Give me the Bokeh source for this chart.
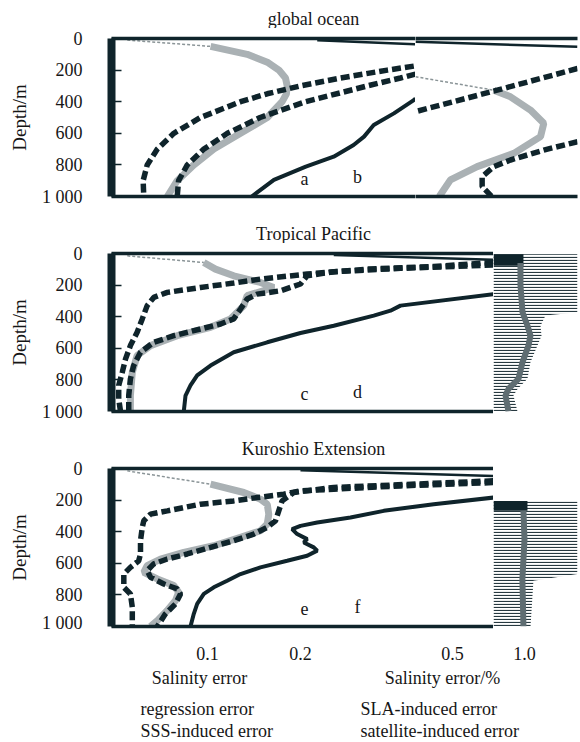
from bokeh.plotting import figure
from bokeh.models import Range1d, FixedTicker, LogAxis, Label, PrintfTickFormatter
from bokeh.layouts import column, row
from bokeh.embed import file_html
from bokeh.resources import INLINE

# ---------------- data ----------------
titles = ["global ocean", "Tropical Pacific", "Kuroshio Extension"]
letters = [["a", "b"], ["c", "d"], ["e", "f"]]
depth_ticks = [0, 200, 400, 600, 800, 1000]
error_ticks = [0.1, 0.2]
percent_ticks = [0.5, 1.0]
x_label_left = "Salinity error"
x_label_right = "Salinity error/%"
legend_left = ["regression error", "SSS-induced error"]
legend_right = ["SLA-induced error", "satellite-induced error"]

err_min = 0.0489
err_max_global = 0.471
err_max_regional = 0.843
pct_min_global = 0.350
pct_min_regional = 0.742
pct_max = 1.666
depth_max = 1000

# (a) global ocean, salinity error
a_reg_depth = [380, 390, 474, 548, 621, 674, 748, 811, 895, 1000]
a_reg_val = [0.471, 0.465, 0.401, 0.345, 0.321, 0.297, 0.256, 0.208, 0.164, 0.139]
a_sla_depth = [175, 200, 250, 300, 350, 400, 500, 600, 700, 800, 900, 1000]
a_sla_val = [0.465, 0.382, 0.269, 0.200, 0.156, 0.128, 0.0949, 0.0778, 0.0688, 0.0638, 0.0619, 0.0622]
a_sat_depth = [225, 250, 300, 400, 500, 600, 700, 800, 900, 1000]
a_sat_val = [0.471, 0.421, 0.329, 0.208, 0.148, 0.116, 0.0973, 0.0860, 0.0806, 0.0798]
a_sss_depth = [10, 50, 100, 150, 200, 250, 300, 350, 400, 500, 600, 700, 800, 900, 1000]
a_sss_val = [0.0550, 0.1023, 0.1344, 0.1561, 0.1702, 0.1788, 0.1811, 0.180, 0.1744, 0.1561, 0.1279, 0.1048, 0.0903, 0.0798, 0.0741]
a_surf_depth = [11, 36]
a_surf_val = [0.2265, 0.471]

# (b) global ocean, salinity error %
b_sss_depth = [242, 327, 369, 453, 537, 621, 727, 811, 895, 1000]
b_sss_val = [0.350, 0.744, 0.874, 1.059, 1.204, 1.167, 0.902, 0.634, 0.490, 0.440]
b_sla_depth = [190, 327, 463]
b_sla_val = [1.666, 0.769, 0.350]
b_sat_depth = [653, 706, 769, 811, 874, 937, 1000]
b_sat_val = [1.666, 1.204, 0.874, 0.744, 0.665, 0.665, 0.730]
b_surf_depth = [21, 53]
b_surf_val = [0.350, 1.666]

# (c) Tropical Pacific, salinity error
c_reg_depth = [257, 330, 362, 393, 457, 503, 562, 625, 709, 772, 835, 899, 1000]
c_reg_val = [0.843, 0.4214, 0.3911, 0.3453, 0.2563, 0.2, 0.1561, 0.1216, 0.1023, 0.0926, 0.0881, 0.0849, 0.0838]
c_sla_depth = [57, 82, 99, 130, 162, 187, 215, 246, 278, 330, 414, 499, 583, 667, 751, 835, 920, 1000]
c_sla_val = [0.843, 0.5399, 0.3287, 0.2102, 0.1484, 0.1216, 0.0949, 0.0741, 0.0670, 0.0638, 0.0615, 0.0592, 0.0563, 0.0543, 0.0530, 0.0516, 0.0516, 0.0523]
c_sat_depth = [73, 94, 115, 141, 193, 236, 257, 288, 351, 414, 446, 478, 520, 562, 625, 709, 793, 899, 1000]
c_sat_val = [0.843, 0.4214, 0.2563, 0.2102, 0.2, 0.1723, 0.1448, 0.1344, 0.1279, 0.1216, 0.1102, 0.0949, 0.0778, 0.0670, 0.0607, 0.0577, 0.0563, 0.0556, 0.0556]
c_sss_depth = [15, 57, 99, 141, 183, 215, 267, 330, 372, 414, 467, 520, 583, 646, 751, 899, 1000]
c_sss_val = [0.0550, 0.0973, 0.1061, 0.1216, 0.1484, 0.1639, 0.1344, 0.1311, 0.1248, 0.1187, 0.1023, 0.0798, 0.0654, 0.0592, 0.0571, 0.0563, 0.0563]
c_surf_depth = [10, 40]
c_surf_val = [0.2563, 0.843]

# (d) Tropical Pacific, salinity error %
d_edge_depth = [4, 372, 393, 457, 520, 583, 688, 793, 857, 899, 1000]
d_edge_val = [1.666, 1.666, 1.224, 1.167, 1.178, 1.133, 1.059, 1.029, 0.935, 0.899, 0.935]
d_core_depth = [60, 200, 372, 457, 520, 583, 688, 793, 857, 899, 1000]
d_core_val = [0.962, 0.962, 0.981, 1.029, 1.059, 1.039, 0.981, 0.944, 0.857, 0.833, 0.857]
d_block_depth = [4, 78]
d_block_val = [0.99, 0.99]

# (e) Kuroshio Extension, salinity error
e_reg_depth = [184, 226, 268, 310, 342, 363, 384, 415, 447, 468, 499, 520, 552, 584, 626, 668, 710, 752, 794, 857, 920, 1000]
e_reg_val = [0.843, 0.5399, 0.3720, 0.2903, 0.2265, 0.2, 0.1879, 0.1951, 0.2102, 0.2050, 0.2208, 0.2265, 0.2102, 0.1811, 0.1484, 0.1279, 0.1158, 0.1048, 0.0973, 0.0926, 0.0903, 0.0881]
e_sla_depth = [89, 110, 131, 141, 163, 184, 205, 226, 268, 289, 331, 373, 457, 541, 584, 626, 668, 752, 794, 878, 1000]
e_sla_val = [0.843, 0.4214, 0.2563, 0.2, 0.1766, 0.1448, 0.1216, 0.0949, 0.0741, 0.0654, 0.0622, 0.0615, 0.0607, 0.0607, 0.0599, 0.0563, 0.0536, 0.0536, 0.0563, 0.0571, 0.0571]
e_sat_depth = [78, 120, 152, 205, 268, 331, 373, 415, 457, 499, 541, 573, 604, 646, 688, 731, 762, 794, 857, 920, 1000]
e_sat_val = [0.843, 0.2563, 0.1902, 0.1744, 0.1701, 0.1660, 0.1561, 0.1412, 0.1216, 0.1023, 0.0860, 0.0741, 0.0670, 0.0638, 0.0654, 0.0722, 0.0798, 0.0818, 0.0788, 0.0731, 0.0688]
e_sss_depth = [15, 99, 152, 194, 226, 289, 352, 394, 436, 489, 531, 573, 615, 657, 699, 741, 783, 836, 899, 963, 1000]
e_sss_val = [0.0550, 0.1023, 0.1311, 0.1484, 0.1561, 0.1579, 0.1561, 0.1484, 0.1279, 0.1048, 0.0838, 0.0705, 0.0638, 0.0622, 0.0688, 0.0778, 0.0807, 0.0788, 0.0741, 0.0688, 0.0654]
e_surf_depth = [11, 47]
e_surf_val = [0.2, 0.843]

# (f) Kuroshio Extension, salinity error %
f_edge_depth = [205, 668, 710, 1000]
f_edge_val = [1.666, 1.666, 1.09, 1.06]
f_core_depth = [268, 450, 700, 1000]
f_core_val = [0.99, 1.0, 0.98, 0.99]
f_block_depth = [205, 268]
f_block_val = [1.029, 1.029]

# ---------------- styling ----------------
DARK = "#0f242b"
GRAY = "#aab1b4"
TXT = "#161616"
SERIF = "'Liberation Serif'"
TOP = 10
FRAME_H = 158


def base_fig(width, height, xr, left, right, bottom, yaxis):
    p = figure(width=width, height=height, x_axis_type="log", x_range=xr,
               y_range=Range1d(depth_max, 0), x_axis_location=None,
               y_axis_location="left" if yaxis else None,
               output_backend="svg", toolbar_location=None,
               min_border_left=left, min_border_right=right,
               min_border_top=TOP, min_border_bottom=bottom)
    p.grid.visible = False
    p.outline_line_color = None
    p.background_fill_color = "white"
    p.border_fill_color = "white"
    if yaxis:
        ya = p.yaxis[0]
        ya.ticker = FixedTicker(ticks=depth_ticks)
        ya.major_label_overrides = {1000: "1 000"}
        ya.axis_line_width = 8
        ya.axis_line_color = DARK
        ya.major_tick_in = 10
        ya.major_tick_out = 0
        ya.major_tick_line_width = 1.5
        ya.major_tick_line_color = DARK
        ya.minor_tick_line_color = None
        ya.major_label_standoff = 29
        ya.major_label_text_font = SERIF
        ya.major_label_text_font_size = "18px"
        ya.major_label_text_color = TXT
        ya.axis_label = "Depth/m"
        ya.axis_label_text_font = SERIF
        ya.axis_label_text_font_size = "19px"
        ya.axis_label_text_font_style = "normal"
        ya.axis_label_text_color = TXT
        ya.axis_label_standoff = 9
    return p


def frame_lines(p):
    for loc in ("above", "below"):
        ax = LogAxis(ticker=FixedTicker(ticks=[]), axis_line_color=DARK, axis_line_width=3.5,
                     major_tick_out=0, major_tick_in=0, minor_tick_out=0, minor_tick_in=0)
        p.add_layout(ax, loc)


def text_label(p, x, y, txt, align="center"):
    p.add_layout(Label(x=x, y=y, x_units="screen", y_units="screen", text=txt,
                       text_align=align, text_baseline="middle", text_font=SERIF,
                       text_font_size="18px", text_color=TXT))


def draw_lines(p, reg, sla, sat, sss, surf):
    if sss:
        p.line(sss[1][:2], sss[0][:2], line_color="#8a9497", line_width=1.5, line_dash="3 2")
        p.line(sss[1][1:], sss[0][1:], line_color=GRAY, line_width=7)
    if sla:
        p.line(sla[1], sla[0], line_color=DARK, line_width=5.5, line_dash="9 4")
    if sat:
        p.line(sat[1], sat[0], line_color=DARK, line_width=5.5, line_dash="9 4")
    if reg:
        p.line(reg[1], reg[0], line_color=DARK, line_width=4)
    if surf:
        p.line(surf[1], surf[0], line_color=DARK, line_width=2.5)


def hatch_panel(p, edge, core, block, xmin):
    p.harea(x1=[xmin] * len(edge[0]), x2=edge[1], y=edge[0], fill_alpha=0,
            hatch_pattern="horizontal_line", hatch_color=DARK, hatch_alpha=0.9,
            hatch_scale=3, hatch_weight=1.2)
    p.harea(x1=[xmin] * len(block[0]), x2=block[1], y=block[0], fill_color=DARK)
    p.line(core[1], core[0], line_color="#5f6d72", line_width=6)


def title_strip(txt):
    t = figure(width=580, height=28, x_range=Range1d(0, 1), y_range=Range1d(0, 1),
               x_axis_location=None, y_axis_location=None, output_backend="svg",
               toolbar_location=None, min_border=0)
    t.grid.visible = False
    t.outline_line_color = None
    text_label(t, 313, 10, txt)
    return t


# row 1
L1 = base_fig(415, 187, Range1d(err_min, err_max_global), 111, 0, 19, True)
frame_lines(L1)
draw_lines(L1, (a_reg_depth, a_reg_val), (a_sla_depth, a_sla_val), (a_sat_depth, a_sat_val),
           (a_sss_depth, a_sss_val), (a_surf_depth, a_surf_val))
R1 = base_fig(165, 187, Range1d(pct_min_global, pct_max), 0, 3, 19, False)
frame_lines(R1)
draw_lines(R1, None, (b_sla_depth, b_sla_val), (b_sat_depth, b_sat_val),
           (b_sss_depth, b_sss_val), (b_surf_depth, b_surf_val))

# row 2
L2 = base_fig(493, 187, Range1d(err_min, err_max_regional), 111, 0, 19, True)
frame_lines(L2)
draw_lines(L2, (c_reg_depth, c_reg_val), (c_sla_depth, c_sla_val), (c_sat_depth, c_sat_val),
           (c_sss_depth, c_sss_val), (c_surf_depth, c_surf_val))
R2 = base_fig(87, 187, Range1d(pct_min_regional, pct_max), 0, 3, 19, False)
hatch_panel(R2, (d_edge_depth, d_edge_val), (d_core_depth, d_core_val),
            (d_block_depth, d_block_val), pct_min_regional)

# row 3
L3 = base_fig(493, 174, Range1d(err_min, err_max_regional), 111, 0, 6, True)
frame_lines(L3)
draw_lines(L3, (e_reg_depth, e_reg_val), (e_sla_depth, e_sla_val), (e_sat_depth, e_sat_val),
           (e_sss_depth, e_sss_val), (e_surf_depth, e_surf_val))
R3 = base_fig(87, 174, Range1d(pct_min_regional, pct_max), 0, 3, 6, False)
hatch_panel(R3, (f_edge_depth, f_edge_val), (f_core_depth, f_core_val),
            (f_block_depth, f_block_val), pct_min_regional)

# panel letters (frame-relative screen positions)
for fig, lt in ((L1, letters[0]), (L2, letters[1]), (L3, letters[2])):
    text_label(fig, 193, 18, lt[0])
    text_label(fig, 246, 20, lt[1])


def strip(width, xr, left, right, ticks):
    p = figure(width=width, height=30, x_axis_type="log", x_range=xr, y_range=Range1d(0, 1),
               x_axis_location="below", y_axis_location=None,
               output_backend="svg", toolbar_location=None,
               min_border_left=left, min_border_right=right, min_border_top=0, min_border_bottom=28)
    p.grid.visible = False
    p.outline_line_color = None
    ax = p.xaxis[0]
    ax.ticker = FixedTicker(ticks=ticks)
    ax.formatter = PrintfTickFormatter(format="%.1f")
    ax.axis_line_color = None
    ax.major_tick_line_color = None
    ax.minor_tick_line_color = None
    ax.major_label_standoff = 6
    ax.major_label_text_font = SERIF
    ax.major_label_text_font_size = "18px"
    ax.major_label_text_color = TXT
    return p


S1 = strip(415, Range1d(err_min, err_max_global), 111, 0, error_ticks)
S2 = strip(165, Range1d(pct_min_global, pct_max), 0, 3, percent_ticks)

LG = figure(width=580, height=80, x_range=Range1d(0, 1), y_range=Range1d(0, 1),
            x_axis_location=None, y_axis_location=None, output_backend="svg",
            toolbar_location=None, min_border=0)
LG.grid.visible = False
LG.outline_line_color = None
text_label(LG, 199, 65, x_label_left)
text_label(LG, 442, 65, x_label_right)
text_label(LG, 140, 34, legend_left[0], "left")
text_label(LG, 140, 12, legend_left[1], "left")
text_label(LG, 360, 34, legend_right[0], "left")
text_label(LG, 360, 12, legend_right[1], "left")

layout = column(title_strip(titles[0]), row(L1, R1),
                title_strip(titles[1]), row(L2, R2),
                title_strip(titles[2]), row(L3, R3),
                row(S1, S2), LG)
open("out.html", "w").write(file_html(layout, INLINE))
